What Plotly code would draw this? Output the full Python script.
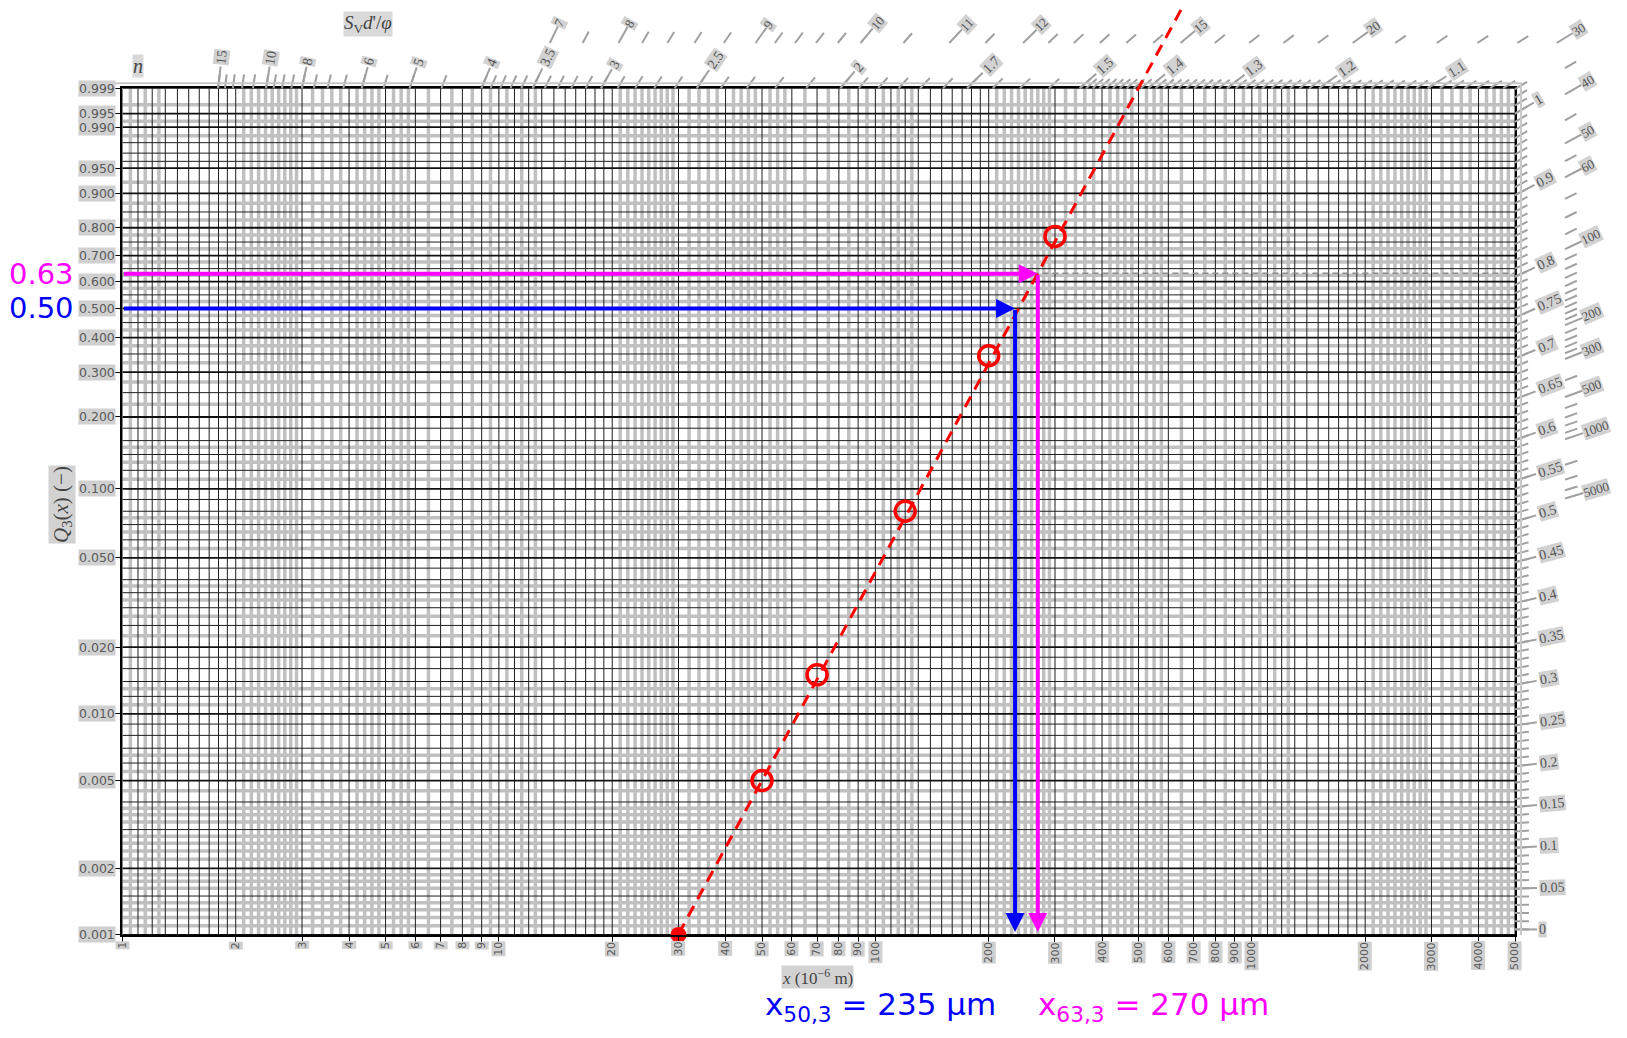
import numpy as np
import plotly.graph_objects as go

# ------------------------------------------------------------------ data
sample_x = [50, 70, 120, 200, 300]               # particle size x (µm)
sample_Q = [0.005, 0.015, 0.08, 0.345, 0.77]     # Q3(x)
start_x = [30]
start_Q = [0.001]
n_fit = 3.14          # RRSB slope of the fitted line
x63 = 270             # x_63,3 (µm)
x50 = 235             # x_50,3 (µm)
Q50 = 0.50
Q63 = 0.63
fit_x_ends = [30, 1000]

x_tick_vals = [1, 2, 3, 4, 5, 6, 7, 8, 9, 10, 20, 30, 40, 50, 60, 70, 80, 90,
               100, 200, 300, 400, 500, 600, 700, 800, 900, 1000, 2000, 3000, 4000, 5000]
y_tick_vals = [0.001, 0.002, 0.005, 0.010, 0.020, 0.050, 0.100, 0.200, 0.300, 0.400,
               0.500, 0.600, 0.700, 0.800, 0.900, 0.950, 0.990, 0.995, 0.999]

n_major_top = [15, 10, 8, 6, 5, 4, 3.5, 3, 2.5, 2, 1.7, 1.5, 1.4, 1.3, 1.2, 1.1]
n_major_right = [1, 0.9, 0.8, 0.75, 0.7, 0.65, 0.6, 0.55, 0.5, 0.45, 0.4, 0.35,
                 0.3, 0.25, 0.2, 0.15, 0.1, 0.05, 0]
sv_major = [7, 8, 9, 10, 11, 12, 15, 20, 30, 40, 50, 60, 100, 200, 300, 500, 1000, 5000]
sv_major_n = [3.54, 3.05, 2.39, 2.05, 1.83, 1.68, 1.43, 1.23, 1.055, 0.988, 0.93,
              0.89, 0.805, 0.715, 0.675, 0.63, 0.58, 0.51]
sv_minor = [7.5, 8.2, 8.4, 8.6, 8.8, 9.2, 9.4, 9.6, 9.8, 10.5, 11.5, 12.5, 13, 13.5,
            14, 14.5, 16, 17, 18, 19, 22, 24, 26, 28, 35, 45, 55, 70, 80, 90,
            110, 120, 130, 140, 150, 160, 170, 180, 190, 220, 240, 260, 280,
            400, 600, 700, 800, 900, 2000, 3000, 4000]

# ------------------------------------------------------------------ layout geometry (page pixels)
PAGE_W, PAGE_H = 1627, 1038
OFF = 8                                   # default body margin of the html page
FW, FH = PAGE_W - 2 * OFF, PAGE_H - 2 * OFF
PL, PR, PT, PB = 122.4, 1515.0, 88.2, 934.9
X_LO, X_HI = 1, 5000
Q_LO, Q_HI = 0.001, 0.999
POLE_W = -6.85
LN10 = np.log(10.0)


def W(q):
    return np.log(-np.log(1.0 - np.asarray(q, dtype=float)))


WLO, WHI = float(W(Q_LO)), float(W(Q_HI))
LXHI = np.log10(X_HI)
KX = (PR - PL) / LXHI
KW = (PB - PT) / (WHI - WLO)


def px_of(lx, w):
    return PL + lx * KX, PB - (w - WLO) * KW


def data_of(px, py):
    return (px - PL) / KX, WLO + (PB - py) / KW


def pxp(px):
    return (px - OFF) / FW


def pyp(py):
    return 1 - (py - OFF) / FH


POLE = px_of(0.0, POLE_W)


def ray_hit(n, top_y, right_x):
    s = n * KW * LN10 / KX
    if s > 0:
        dx = (POLE[1] - top_y) / s
        if POLE[0] + dx <= right_x:
            return (POLE[0] + dx, top_y), s
    return (right_x, POLE[1] - s * (right_x - POLE[0])), s


def along(p, s, d):
    L = np.hypot(1.0, s)
    return p[0] + d / L, p[1] - d * s / L


def fmt(v):
    return ("%g" % v)


# ------------------------------------------------------------------ grid values
xb = []
for d in [1, 10, 100, 1000]:
    xb += [round(d * (1 + 0.1 * i), 6) for i in range(10)]
    xb += [d * k for k in range(2, 10)]
xb = sorted(v for v in set(xb) if v <= X_HI)

qb = ([0.001, 0.0015] + [round(0.001 * k, 4) for k in range(2, 11)]
      + [round(0.01 + 0.002 * k, 4) for k in range(1, 6)]
      + [round(0.02 + 0.005 * k, 4) for k in range(1, 7)]
      + [round(0.05 + 0.01 * k, 3) for k in range(1, 6)]
      + [round(0.1 + 0.02 * k, 3) for k in range(1, 6)]
      + [round(0.2 + 0.05 * k, 3) for k in range(1, 16)]
      + [0.96, 0.97, 0.98, 0.99, 0.995, 0.999])
qb = sorted(set(qb))


def subdiv(vals, gapfun, min_px=6.5):
    out = []
    for a, b in zip(vals[:-1], vals[1:]):
        g = gapfun(a, b)
        m = 1
        for cand in [10, 5, 4, 2]:
            if g / cand >= min_px:
                m = cand
                break
        out += [a + (b - a) * k / m for k in range(1, m)]
    return out


xg = subdiv(xb, lambda a, b: (np.log10(b) - np.log10(a)) * KX)
qg = subdiv(qb, lambda a, b: (W(b) - W(a)) * KW)


def vlines(vals):
    xs, ys = [], []
    for v in vals:
        xs += [v, v, None]
        ys += [WLO, WHI, None]
    return xs, ys


def hlines(qs):
    xs, ys = [], []
    for q in qs:
        w = float(W(q))
        xs += [X_LO, X_HI, None]
        ys += [w, w, None]
    return xs, ys


fig = go.Figure()
GRAY = "#c0c0c0"
for xs, ys, col, wd in [
    (*vlines(xg), GRAY, 3.5),
    (*hlines(qg), GRAY, 3.5),
    (*vlines(xb), "#1e1e1e", 1.0),
    (*hlines([q for q in qb if q not in y_tick_vals]), "#1e1e1e", 1.0),
    (*hlines(y_tick_vals), "#111111", 1.8),
]:
    fig.add_trace(go.Scatter(x=xs, y=ys, mode="lines", line=dict(color=col, width=wd),
                             hoverinfo="skip", showlegend=False, xaxis="x", yaxis="y"))

# 63.2 % reference line
fig.add_trace(go.Scatter(x=[X_LO, X_HI], y=[0.0, 0.0], mode="lines",
                         line=dict(color="#8c8c8c", width=1.5, dash="6px,4px"),
                         hoverinfo="skip", showlegend=False))

# measured points
fig.add_trace(go.Scatter(x=sample_x, y=W(sample_Q), mode="markers",
                         marker=dict(symbol="circle-open", size=20, color="red",
                                     line=dict(color="red", width=3.5)),
                         name="Q3", showlegend=False))
fig.add_trace(go.Scatter(x=start_x, y=W(start_Q), mode="markers",
                         marker=dict(symbol="circle", size=16, color="red"),
                         showlegend=False, cliponaxis=False))

# ------------------------------------------------------------------ outer scales (full-figure subplot)
def add_ticks(items, top_y, right_x, length):
    xs, ys = [], []
    for n in items:
        p, s = ray_hit(n, top_y, right_x)
        q = along(p, s, length)
        for pt in (p, q):
            lx, w = data_of(*pt)
            xs.append(10 ** lx)
            ys.append(w)
        xs.append(None)
        ys.append(None)
    return xs, ys


annotations = []


def add_labels(vals, ns, top_y, right_x, start, size=14):
    for v, n in zip(vals, ns):
        txt = fmt(v)
        p, s = ray_hit(n, top_y, right_x)
        c = along(p, s, start + 3.4 * len(txt))
        ang = -np.degrees(np.arctan(s))
        annotations.append(dict(x=pxp(c[0]), y=pyp(c[1]), xref="paper", yref="paper", text=txt,
                                showarrow=False, textangle=ang, xanchor="center",
                                yanchor="middle", bgcolor="#d2d2d2", borderpad=0,
                                font=dict(family="Liberation Serif", size=size, color="#555")))


n_minor = ([round(1 + 0.01 * k, 3) for k in range(0, 50)]
           + [round(1.5 + 0.05 * k, 3) for k in range(0, 10)]
           + [round(2 + 0.1 * k, 3) for k in range(0, 20)]
           + [round(4 + 0.5 * k, 3) for k in range(0, 12)]
           + [10 + k for k in range(0, 6)]
           + [round(0.01 * k, 3) for k in range(0, 100)])

TOP_N, RIGHT_N = PT, PR
sv_minor_n = np.interp(np.log(sv_minor), np.log(sv_major), sv_major_n)
TOP_S, RIGHT_S = 43.0, 1565.0

tick_sets = [
    add_ticks(n_minor, TOP_N, RIGHT_N, 14),
    add_ticks(n_major_top + n_major_right, TOP_N, RIGHT_N, 22),
    add_ticks(list(sv_minor_n), TOP_S, RIGHT_S, 13),
    add_ticks(sv_major_n, TOP_S, RIGHT_S, 19),
]
for xs, ys in tick_sets:
    fig.add_trace(go.Scatter(x=xs, y=ys, mode="lines", line=dict(color="#a0a0a0", width=2.0),
                             hoverinfo="skip", showlegend=False, xaxis="x2", yaxis="y2"))

# scale baselines just outside the frame
bx0, by0 = data_of(PL - 8, PT - 5)
bx1, by1 = data_of(PR + 6, PT - 5)
bx2, by2 = data_of(PR + 6, PB)
fig.add_trace(go.Scatter(x=[10 ** bx0, 10 ** bx1, 10 ** bx2], y=[by0, by1, by2], mode="lines",
                         line=dict(color="#c8c8c8", width=2), hoverinfo="skip",
                         showlegend=False, xaxis="x2", yaxis="y2"))

# fitted RRSB line (extends above the grid)
fit_w = [n_fit * np.log(x / x63) for x in fit_x_ends]
fig.add_trace(go.Scatter(x=fit_x_ends, y=fit_w, mode="lines",
                         line=dict(color="red", width=3, dash="12px,8px"),
                         hoverinfo="skip", showlegend=False, xaxis="x2", yaxis="y2"))

add_labels(n_major_top, n_major_top, TOP_N, RIGHT_N, 24)
add_labels(n_major_right, n_major_right, TOP_N, RIGHT_N, 24)
add_labels(sv_major, sv_major_n, TOP_S, RIGHT_S, 19, size=13)

# ------------------------------------------------------------------ axis labels
LBL = dict(family="DejaVu Sans", size=12.5, color="#5a5a5a")
for q in y_tick_vals:
    annotations.append(dict(x=pxp(PL - 6), y=float(W(q)), xref="paper", yref="y",
                            text="%.3f" % q, showarrow=False, xanchor="right", yanchor="middle",
                            bgcolor="#d0d0d0", borderpad=0, font=LBL))
for v in x_tick_vals:
    annotations.append(dict(x=pxp(PL + np.log10(v) * KX), y=pyp(PB + 6), xref="paper",
                            yref="paper", text=str(v), showarrow=False, textangle=-90,
                            xanchor="center", yanchor="top", bgcolor="#d0d0d0", borderpad=0,
                            font=dict(family="DejaVu Sans", size=11, color="#5a5a5a")))

SER = dict(family="Liberation Serif", size=17, color="#444")
annotations += [
    dict(x=pxp(817), y=pyp(977), xref="paper", yref="paper", xanchor="center",
         yanchor="middle", text="<i>x</i> (10<sup>−6</sup> m)", showarrow=False,
         bgcolor="#d2d2d2", borderpad=0, font=SER),
    dict(x=pxp(62), y=pyp(505), xref="paper", yref="paper", textangle=-90, xanchor="center",
         yanchor="middle", text="<i>Q</i><sub>3</sub>(<i>x</i>) (−)", showarrow=False,
         bgcolor="#d2d2d2", borderpad=0, font=dict(SER, size=21)),
    dict(x=pxp(138), y=pyp(66), xref="paper", yref="paper", xanchor="center",
         yanchor="middle", text="<i>n</i>", showarrow=False, bgcolor="#d9d9d9", borderpad=0,
         font=dict(SER, size=20)),
    dict(x=pxp(368), y=pyp(24), xref="paper", yref="paper", xanchor="center",
         yanchor="middle", text="<i>S</i><sub>V</sub><i>d</i>'/<i>φ</i>", showarrow=False,
         bgcolor="#d9d9d9", borderpad=0,
         font=dict(family="Liberation Serif", size=19, color="#444")),
]

# ------------------------------------------------------------------ x50 / x63 constructions
BIG = dict(family="DejaVu Sans", size=29)
for q, xv, col in [(Q63, x63, "#ff00ff"), (Q50, x50, "#0000ff")]:
    wq = float(W(q))
    annotations.append(dict(x=np.log10(xv), y=wq, ax=np.log10(X_LO), ay=wq, xref="x", yref="y",
                            axref="x", ayref="y", text="", showarrow=True, arrowhead=2,
                            arrowsize=0.95, arrowwidth=4, arrowcolor=col))
    annotations.append(dict(x=np.log10(xv), y=WLO, ax=np.log10(xv), ay=wq, xref="x", yref="y",
                            axref="x", ayref="y", text="", showarrow=True, arrowhead=2,
                            arrowsize=0.95, arrowwidth=4, arrowcolor=col, standoff=3))
    annotations.append(dict(x=pxp(76), y=wq, xref="paper", yref="y", text="%.2f" % q,
                            showarrow=False, xanchor="right", yanchor="middle",
                            font=dict(BIG, color=col)))

annotations.append(dict(x=pxp(763), y=pyp(1029), xref="paper", yref="paper",
                        text="x<sub>50,3</sub> = %d µm" % x50, showarrow=False, xanchor="left",
                        yanchor="bottom", font=dict(BIG, size=31, color="#0000ff")))
annotations.append(dict(x=pxp(1036), y=pyp(1029), xref="paper", yref="paper",
                        text="x<sub>63,3</sub> = %d µm" % x63, showarrow=False, xanchor="left",
                        yanchor="bottom", font=dict(BIG, size=31, color="#ff00ff")))

lx_a, w_a = data_of(OFF, OFF + FH)
lx_b, w_b = data_of(OFF + FW, OFF)

fig.update_layout(
    width=FW, height=FH, autosize=False,
    margin=dict(l=0, r=0, t=0, b=0),
    paper_bgcolor="white", plot_bgcolor="rgba(0,0,0,0)", showlegend=False,
    xaxis=dict(type="log", range=[0, LXHI], domain=[pxp(PL), pxp(PR)], anchor="y",
               showgrid=False, zeroline=False, showline=True, mirror=True, linecolor="black",
               linewidth=2, ticks="outside", ticklen=5, tickcolor="black", tickwidth=1.2,
               tickmode="array", tickvals=x_tick_vals, showticklabels=False),
    yaxis=dict(range=[WLO, WHI], domain=[pyp(PB), pyp(PT)], anchor="x",
               showgrid=False, zeroline=False, showline=True, mirror=True, linecolor="black",
               linewidth=2, ticks="outside", ticklen=5, tickcolor="black", tickwidth=1.2,
               tickmode="array", tickvals=[float(W(q)) for q in y_tick_vals],
               showticklabels=False),
    xaxis2=dict(type="log", range=[lx_a, lx_b], domain=[0, 1], anchor="y2", visible=False,
                showgrid=False, zeroline=False),
    yaxis2=dict(range=[w_a, w_b], domain=[0, 1], anchor="x2", visible=False,
                showgrid=False, zeroline=False),
    annotations=annotations,
)

fig.write_html("out.html")
